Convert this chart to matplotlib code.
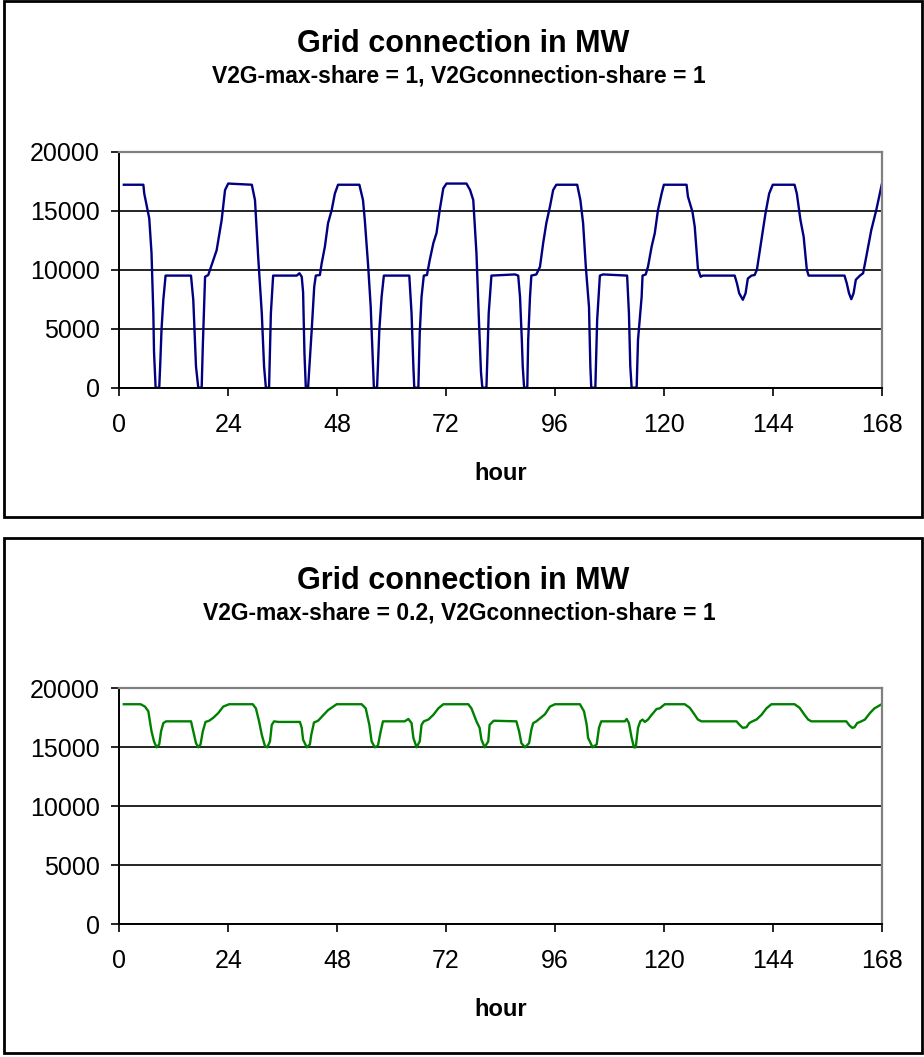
import matplotlib
matplotlib.use('Agg')
import matplotlib.pyplot as plt
from matplotlib.patches import Rectangle

# hour / MW
v2g_full_hours = [1, 5.3, 5.5, 6.6, 7.1, 7.5, 7.65, 8.0, 8.8, 9.0, 9.3, 9.7, 10.2, 15.8, 16.3, 16.9, 17.4, 18.15, 18.4, 18.9,
                  19.6, 20.35, 21.45, 22.55, 23.3, 24.0,
                  29.2, 29.9, 30.6, 31.4, 31.9, 32.3, 33.0, 33.4, 33.9, 39.1, 39.7, 40.2, 40.5, 40.8, 41.1, 41.6, 41.9,
                  42.4, 42.95, 43.3, 44.2, 44.6, 45.3, 46.0, 46.8, 47.5, 48.2,
                  52.9, 53.7, 54.1, 54.85, 55.4, 55.8, 56.1, 56.8, 57.3, 57.8, 58.3, 63.9, 64.4, 64.8, 65.0, 65.9, 66.2,
                  66.6, 67.1, 67.8, 68.4, 69.2, 69.9, 70.6, 71.4, 72.1,
                  76.5, 77.3, 78.0, 78.7, 79.3, 79.7, 80.0, 80.9, 81.4, 82.0, 87.2, 87.9, 88.3, 88.7, 88.9, 89.2, 89.9,
                  90.1, 90.5, 90.8, 91.9, 92.7, 93.4, 94.1, 94.9, 95.6, 96.3,
                  100.9, 101.6, 102.2, 102.8, 103.5, 103.8, 104.0, 104.9, 105.3, 105.9, 106.6, 111.9, 112.3, 112.6, 112.9,
                  114.0, 114.3, 115.1, 115.3, 116.0, 116.5, 117.3, 118.0, 118.7, 119.5, 120.0,
                  125.0, 125.3, 126.3, 126.8, 127.5, 128.1, 128.6, 135.6, 136.1, 136.6, 137.4, 138.0, 138.5, 139.3, 140.0,
                  140.5, 141.5, 142.4, 143.2, 144.0,
                  148.8, 149.3, 150.1, 150.8, 151.5, 151.9, 159.8, 160.3, 160.8, 161.3, 161.8, 162.3, 163.2, 163.9, 164.6,
                  165.7, 166.8, 168.0]
v2g_full_mw = [17200, 17200, 16450, 14350, 11400, 6300, 3050, 0, 0, 1800, 4900, 7450, 9500, 9500, 7450, 1800, 0, 0, 3500, 9400,
               9550, 10400, 11650, 14200, 16750, 17300,
               17200, 15900, 11100, 6300, 1800, 0, 0, 6300, 9500, 9500, 9700, 9400, 8100, 2900, 0, 0, 1800,
               4900, 8550, 9500, 9550, 10550, 11950, 13950, 15050, 16450, 17200,
               17200, 15900, 14200, 10250, 6850, 2900, 0, 0, 4900, 7700, 9500, 9500, 6300, 1800, 0, 0, 4600,
               7700, 9500, 9550, 10800, 12250, 13100, 15050, 16900, 17300,
               17300, 16750, 15900, 11400, 5150, 1300, 0, 0, 6300, 9500, 9600, 9500, 7700, 4050, 1800, 0, 0,
               4050, 7700, 9500, 9600, 10250, 12250, 13950, 15350, 16750, 17200,
               17200, 15900, 13950, 10250, 6850, 1800, 0, 0, 5750, 9500, 9600, 9500, 6300, 1800, 0,
               0, 4050, 7700, 9500, 9600, 10250, 11950, 13100, 15050, 16450, 17200,
               17200, 16200, 14900, 13650, 10100, 9400, 9500, 9500, 8850, 8000, 7450, 8000, 9250, 9500, 9550,
               10000, 12500, 14800, 16450, 17200,
               17200, 16450, 14200, 12800, 10000, 9500, 9500, 8850, 8000, 7500, 8000, 9150, 9500, 9700, 11100,
               13350, 15050, 17200]

v2g_02_hours = [1, 4.7, 5.65, 6.4, 6.75, 7.1, 7.65, 8.2, 8.8, 9.2, 9.7, 10.3, 15.8, 16.3, 16.9, 17.4, 17.9, 18.4, 19.0, 19.8,
                20.7, 21.8, 22.9, 24.2,
                29.4, 30.1, 30.8, 31.4, 32.1, 32.6, 33.2, 33.6, 34.1, 35.0, 39.8, 40.2, 40.5, 41.3, 42.0, 42.3, 42.9,
                43.8, 44.9, 46.0, 47.9,
                53.4, 54.3, 55.1, 55.6, 56.3, 57.0, 57.6, 58.1, 62.9, 63.7, 64.4, 64.8, 65.5, 66.2, 66.6, 67.1, 68.1,
                69.2, 70.3, 71.4,
                76.9, 77.6, 78.7, 79.4, 79.8, 80.5, 81.3, 81.6, 82.5, 87.5, 88.1, 88.6, 89.4, 90.3, 90.8, 91.2, 91.9,
                92.7, 93.8, 94.9, 96.0,
                101.5, 102.4, 103.0, 103.3, 104.3, 105.2, 105.7, 106.2, 111.4, 111.8, 112.3, 112.9, 113.4, 113.8, 114.3,
                114.8, 115.3, 115.8, 116.5, 117.3, 118.4, 119.1, 120.2,
                124.6, 125.7, 126.8, 127.5, 128.3, 136.0, 136.7, 137.4, 138.2, 138.8, 139.5, 140.4, 141.5, 142.6, 143.7,
                148.8, 149.9, 151.0, 151.8, 152.5, 160.2, 160.9, 161.5, 162.0, 162.6, 163.5, 164.3, 165.4, 166.4, 168.0]
v2g_02_mw = [18650, 18650, 18450, 18050, 17200, 16350, 15500, 15000, 15250, 16350, 17050, 17200, 17200, 16350, 15350, 15000,
             15250, 16350, 17150, 17250, 17500, 17900, 18450, 18650,
             18650, 18300, 17200, 16050, 15100, 15000, 15500, 16900, 17200, 17150, 17150, 16650, 15650, 15000, 15250,
             16050, 17100, 17250, 17700, 18150, 18650,
             18650, 18300, 16900, 15500, 15000, 15150, 16350, 17200, 17200, 17400, 17050, 15800, 15000, 15500, 16900,
             17200, 17350, 17750, 18300, 18650,
             18650, 18300, 17200, 16650, 15650, 15000, 15500, 16900, 17250, 17200, 16350, 15350, 15000, 15350, 16500,
             17050, 17200, 17450, 17800, 18450, 18650,
             18650, 18050, 16900, 15800, 15000, 15250, 16650, 17200, 17200, 17400, 17050, 15800, 15000, 15000, 16650,
             17200, 17350, 17150, 17350, 17750, 18250, 18300, 18650,
             18650, 18350, 17750, 17350, 17200, 17200, 16900, 16650, 16700, 17050, 17200, 17350, 17750, 18300, 18650,
             18650, 18350, 17750, 17350, 17200, 17200, 16850, 16650, 16700, 17050, 17200, 17350, 17900, 18300, 18650]

subtitles = ['V2G-max-share = 1, V2Gconnection-share = 1',
             'V2G-max-share = 0.2, V2Gconnection-share = 1']
x_ticks = [0, 24, 48, 72, 96, 120, 144, 168]
y_ticks = [0, 5000, 10000, 15000, 20000]

plt.rcParams['font.family'] = ['Liberation Sans', 'DejaVu Sans']

W, H = 924, 1057
fig = plt.figure(figsize=(W / 100, H / 100), dpi=100)

panels = [(v2g_full_hours, v2g_full_mw, '#000080', subtitles[0]),
          (v2g_02_hours, v2g_02_mw, '#008000', subtitles[1])]

for i, (hrs, mw, col, sub) in enumerate(panels):
    off = i * 536.6
    # outer chart box
    fig.add_artist(Rectangle((4 / W, 1 - (516.7 + off) / H), 918 / W, 515.7 / H,
                             transform=fig.transFigure, fill=False, edgecolor='black', linewidth=2))
    fig.text(463 / W, 1 - (52 + off) / H, 'Grid connection in MW', ha='center', va='baseline',
             fontsize=22, fontweight='bold')
    fig.text(459 / W, 1 - (83 + off) / H, sub, ha='center', va='baseline',
             fontsize=16.5, fontweight='bold')

    top = 151.7 + off
    bot = 387.7 + off
    ax = fig.add_axes([119.3 / W, 1 - bot / H, (881.7 - 119.3) / W, (bot - top) / H])
    ax.plot(hrs, mw, color=col, linewidth=1.7)
    ax.set_xlim(0, 168)
    ax.set_ylim(0, 20000)
    ax.set_xticks(x_ticks)
    ax.set_yticks(y_ticks)
    ax.set_axisbelow(True)
    ax.yaxis.grid(True, color='black', linewidth=1.2)
    for s in ['top', 'right']:
        ax.spines[s].set_color('#808080')
        ax.spines[s].set_linewidth(1.6)
    for s in ['left', 'bottom']:
        ax.spines[s].set_color('black')
        ax.spines[s].set_linewidth(1.4)
    ax.tick_params(direction='out', length=6, width=1.2, labelsize=18, colors='black')
    ax.tick_params(axis='x', pad=12)
    ax.tick_params(axis='y', pad=8)
    ax.set_xlabel('hour', fontsize=17, fontweight='bold')
    ax.xaxis.set_label_coords(0.5, -(473 - 387.7) / 236)
    ax.xaxis.label.set_va('center')

fig.savefig('out.png', dpi=100)
